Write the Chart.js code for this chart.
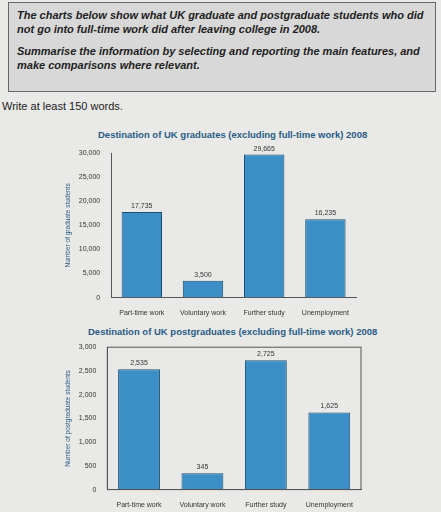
<!DOCTYPE html>
<html><head><meta charset="utf-8">
<script src="https://cdn.jsdelivr.net/npm/chart.js@4"></script>
<style>
body{margin:0;width:441px;height:512px;background:#e9e9e7;font-family:"Liberation Sans",Arial,sans-serif;overflow:hidden;position:relative}
#task{position:absolute;left:8px;top:2px;width:428px;height:90px;background:#d8d8d8;border:1px solid #666;padding:5px 8px;box-sizing:border-box;font-size:11px;font-weight:bold;font-style:italic;color:#222;line-height:14px}
#task p{margin:0 0 8px 0}
#write{position:absolute;left:2px;top:100px;font-size:11px;color:#222}
.t{position:absolute;font-size:9.5px;font-weight:bold;color:#2a5c86;white-space:nowrap}
canvas{position:absolute}
</style></head><body>
<div id="task"><p>The charts below show what UK graduate and postgraduate students who did not go into full-time work did after leaving college in 2008.</p><p>Summarise the information by selecting and reporting the main features, and make comparisons where relevant.</p></div>
<div id="write">Write at least 150 words.</div>
<div class="t" style="left:98px;top:129px">Destination of UK graduates (excluding full-time work) 2008</div>
<div class="t" style="left:88px;top:326px">Destination of UK postgraduates (excluding full-time work) 2008</div>
<div style="position:absolute;left:60px;top:145px;width:300px;height:175px"><canvas id="c1"></canvas></div>
<div style="position:absolute;left:60px;top:340px;width:305px;height:172px"><canvas id="c2"></canvas></div>
<script>
var categories = ['Part-time work', 'Voluntary work', 'Further study', 'Unemployment'];
var graduates = [17735, 3500, 29665, 16235];
var postgraduates = [2535, 345, 2725, 1625];

var labelPlugin = {
	id: 'vals',
	afterDatasetsDraw: function(chart) {
		var c = chart.ctx;
		var meta = chart.getDatasetMeta(0);
		c.save();
		c.font = '7px "Liberation Sans"';
		c.fillStyle = '#333';
		c.textAlign = 'center';
		meta.data.forEach(function(bar, i) {
			var v = chart.data.datasets[0].data[i];
			c.fillText(v.toLocaleString('en-US'), bar.x, bar.y - 4);
		});
		if (chart.canvas.id === 'c2') {
			var a = chart.chartArea;
			c.strokeStyle = '#555';
			c.lineWidth = 1;
			c.strokeRect(a.left, a.top, a.right - a.left, a.bottom - a.top);
		}
		c.restore();
	}
};

function makeChart(id, data, max, step, ylabel, pad) {
	return new Chart(document.getElementById(id), {
		type: 'bar',
		data: {
			labels: categories,
			datasets: [{
				data: data,
				backgroundColor: '#3b8ec6',
				borderColor: '#1d4f73',
				borderWidth: 1,
				categoryPercentage: 0.66,
				barPercentage: 1
			}]
		},
		options: {
			animation: false,
			responsive: true,
			maintainAspectRatio: false,
			layout: { padding: { top: pad, right: 4 } },
			plugins: { legend: { display: false }, tooltip: { enabled: false } },
			scales: {
				x: {
					grid: { display: false },
					border: { color: '#555' },
					ticks: { color: '#333', font: { size: 7 }, maxRotation: 0 }
				},
				y: {
					min: 0, max: max,
					ticks: { stepSize: step, color: '#333', font: { size: 7 },
						callback: function(v) { return v.toLocaleString('en-US'); } },
					grid: { display: false },
					border: { color: '#555' },
					title: { display: true, text: ylabel, color: '#2a5c86', font: { size: 6.5 } }
				}
			}
		},
		plugins: [labelPlugin]
	});
}

makeChart('c1', graduates, 30000, 5000, 'Number of graduate students', 8);
makeChart('c2', postgraduates, 3000, 500, 'Number of postgraduate students', 6);
</script>
</body></html>
